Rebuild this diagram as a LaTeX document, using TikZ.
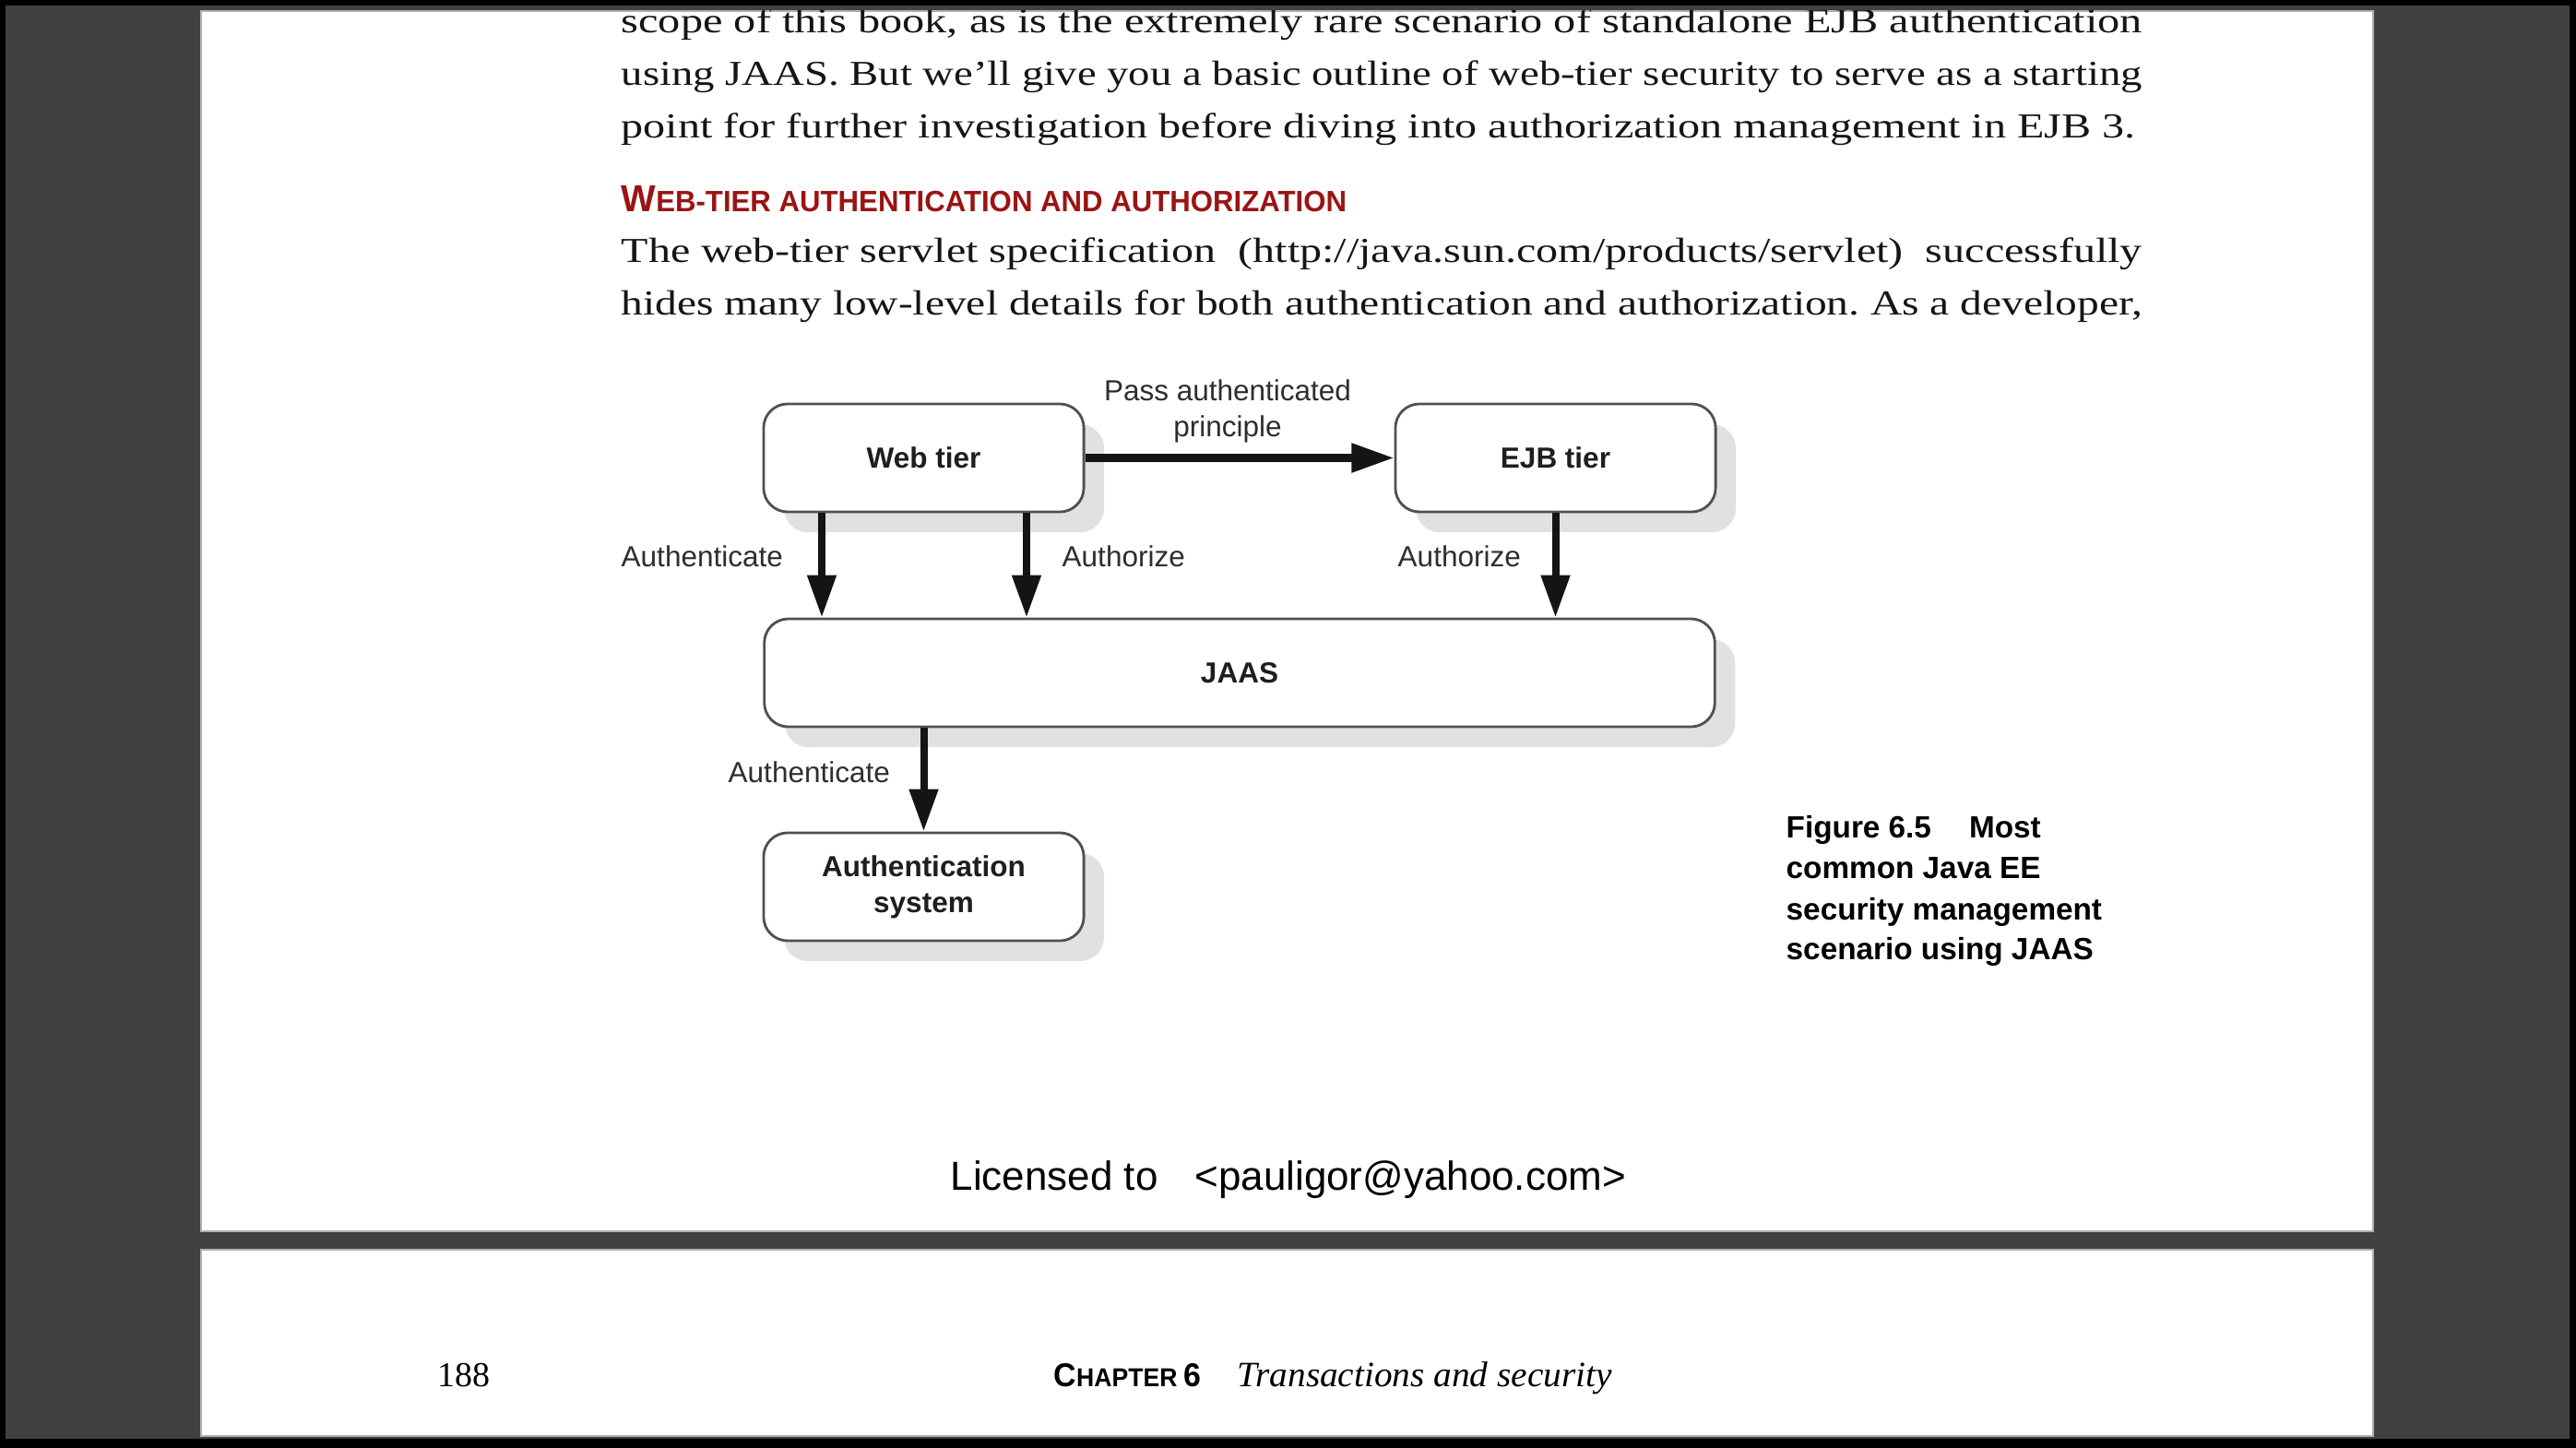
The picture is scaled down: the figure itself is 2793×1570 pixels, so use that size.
\documentclass[tikz,border=0pt]{standalone}
\usepackage{fontspec}
\usepackage{graphicx}
\setmainfont{Liberation Serif}
\setsansfont{Liberation Sans}
\usetikzlibrary{arrows.meta,shadows}
\definecolor{bggrey}{HTML}{414141}
\definecolor{pageedge}{HTML}{B0B0B0}
\definecolor{boxborder}{HTML}{505050}
\definecolor{shgrey}{HTML}{E1E1E1}
\definecolor{arrcol}{HTML}{141414}
\definecolor{lblcol}{HTML}{2E2E2E}
\definecolor{boxtext}{HTML}{1E1E1E}
\definecolor{headred}{HTML}{9A1414}
\definecolor{bodytext}{HTML}{151515}
\newcommand{\bline}[2]{\resizebox{#1}{\height}{#2}}
\frenchspacing
\begin{document}
\begin{tikzpicture}[x=0.01cm,y=-0.01cm,
  tierbox/.style={draw=boxborder, line width=0.8pt, fill=white, rounded corners=0.26cm,
    minimum width=3.47cm, minimum height=1.17cm, inner sep=0pt, align=center,
    font=\sffamily\bfseries\fontsize{8.96}{11.1}\selectfont, text=boxtext,
    drop shadow={shadow xshift=0.22cm, shadow yshift=-0.22cm, fill=shgrey, opacity=1}},
  arr/.style={line width=0.08cm, draw=arrcol, -{Triangle[length=0.46cm,width=0.30cm,fill=arrcol]}},
  lbl/.style={font=\sffamily\fontsize{8.96}{11.1}\selectfont, text=lblcol, inner sep=0pt},
  bodyln/.style={anchor=base west, inner sep=0pt, text=bodytext, font=\fontsize{10.8}{13}\selectfont\frenchspacing},
  capln/.style={anchor=base west, inner sep=0pt, text=black, font=\sffamily\bfseries\fontsize{9.47}{12.5}\selectfont}
]
\useasboundingbox (0,0) rectangle (2793,1570);
% frame
\fill[black] (0,0) rectangle (2793,1570);
\fill[bggrey] (6,6) rectangle (2786,1560);
\filldraw[fill=white, draw=pageedge, line width=0.4pt] (218,12) rectangle (2573,1335);
\filldraw[fill=white, draw=pageedge, line width=0.4pt] (218,1355) rectangle (2573,1557);

% page text (clipped at page top)
\begin{scope}
\clip (218,12) rectangle (2573,1335);
\node[bodyln] (t1) at (673,36) {\bline{16.48cm}{scope of this book, as is the extremely rare scenario of standalone EJB authentication}};
\end{scope}
\node[bodyln] (t2) at (673,93) {\bline{16.48cm}{using JAAS. But we’ll give you a basic outline of web-tier security to serve as a starting}};
\node[bodyln] (t3) at (673,150) {\bline{16.41cm}{point for further investigation before diving into authorization management in EJB 3.}};
\node[anchor=base west, inner sep=0pt, text=headred] (head) at (673,230)
  {\resizebox{7.86cm}{0.28cm}{\sffamily\bfseries{\fontsize{12}{14}\selectfont W}{\fontsize{9.4}{12}\selectfont EB-TIER AUTHENTICATION AND AUTHORIZATION}}};
\node[bodyln] (t4) at (673,285) {\bline{16.48cm}{The web-tier servlet specification \ (http://java.sun.com/products/servlet) \ successfully}};
\node[bodyln] (t5) at (673,342) {\bline{16.48cm}{hides many low-level details for both authentication and authorization. As a developer,}};

% diagram
\node[tierbox] (web) at (1001.5,496.5) {Web tier};
\node[tierbox] (ejb) at (1686.5,496.5) {EJB tier};
\node[tierbox, minimum width=10.30cm] (jaas) at (1344,729.5) {JAAS};
\node[tierbox] (auth) at (1001.5,961.5) {\rule{0pt}{0.22cm}Authentication\\system};

\coordinate (xa) at (891,0);
\coordinate (xb) at (1113,0);
\draw[arr] (web.east) -- (ejb.west);
\draw[arr] (web.south -| xa) -- (jaas.north -| xa);
\draw[arr] (web.south -| xb) -- (jaas.north -| xb);
\draw[arr] (ejb.south) -- (ejb.south |- jaas.north);
\draw[arr] (auth.north |- jaas.south) -- (auth.north);

\node[lbl, align=center] (lpass) at (1331,446) {Pass authenticated\\principle};
\node[lbl, anchor=west] (lauth1) at (673,603) {Authenticate};
\node[lbl, anchor=west] (lautz1) at (1151,603) {Authorize};
\node[lbl, anchor=west] (lautz2) at (1515,603) {Authorize};
\node[lbl, anchor=west] (lauth2) at (789,837) {Authenticate};

% caption
\node[capln] (c1) at (1936,908) {Figure 6.5\hspace{0.41cm}Most};
\node[capln] (c2) at (1936,952) {common Java EE};
\node[capln] (c3) at (1936,997) {security management};
\node[capln] (c4) at (1936,1040) {scenario using JAAS};

% footer
\node[anchor=base west, inner sep=0pt, text=black, font=\sffamily\fontsize{12.5}{15}\selectfont] (lic) at (1030,1290)
  {Licensed to\hspace{0.40cm}<pauligor@yahoo.com>};

% page 2 header
\node[anchor=base west, inner sep=0pt, text=black, font=\fontsize{10.8}{13}\selectfont] (pg) at (474,1503) {188};
\node[anchor=base west, inner sep=0pt, text=black] (chap) at (1142,1503)
  {\resizebox{1.60cm}{0.25cm}{\sffamily\bfseries{\fontsize{12}{14}\selectfont C}{\fontsize{9.4}{12}\selectfont HAPTER }{\fontsize{12}{14}\selectfont 6}}};
\node[anchor=base west, inner sep=0pt, text=black] (ctitle) at (1341,1503)
  {\resizebox{4.06cm}{\height}{\fontsize{11}{13}\selectfont\itshape Transactions and security}};
\end{tikzpicture}
\end{document}
